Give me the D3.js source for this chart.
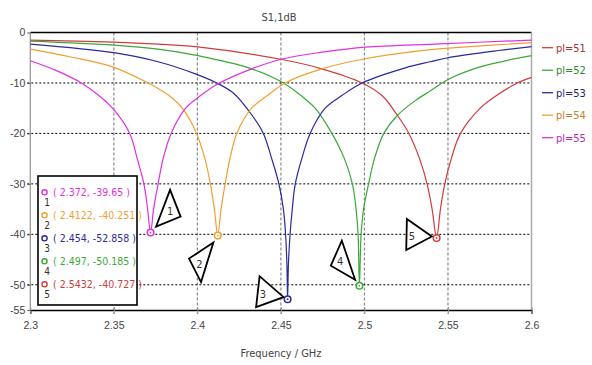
<!DOCTYPE html>
<html>
<head>
<meta charset="utf-8">
<script src="https://cdn.jsdelivr.net/npm/d3@7"></script>
<style>
  body { margin: 0; background: #fff; }
  svg { display: block; font-family: "Liberation Sans Narrow", "DejaVu Sans Condensed", "Liberation Sans", sans-serif; font-stretch: condensed; }
</style>
</head>
<body>
<svg id="chart" width="592" height="365"></svg>
<script>
var seriesNames = ['pl=51', 'pl=52', 'pl=53', 'pl=54', 'pl=55'];
var seriesColors = ['#d03c3c', '#3aa83a', '#2a2a9a', '#f0a030', '#e030e0'];

var pl51Freq = [2.300, 2.350, 2.3765, 2.3988, 2.4515, 2.4745, 2.4986, 2.5105, 2.5195, 2.5266, 2.533, 2.5375, 2.5405, 2.5432, 2.5455, 2.5481, 2.552, 2.5575, 2.5693, 2.579, 2.5916, 2.600];
var pl51Db   = [-1.5, -1.9, -2.3, -2.8, -5.4, -7.2, -10, -12.5, -16.3, -20, -25, -30, -35, -40.727, -35, -30, -25, -20, -15, -12.5, -10, -8.9];

var pl52Freq = [2.300, 2.350, 2.3765, 2.3988, 2.4325, 2.4515, 2.462, 2.4705, 2.4805, 2.488, 2.4928, 2.495, 2.4962, 2.497, 2.498, 2.4995, 2.5025, 2.506, 2.5116, 2.5195, 2.530, 2.5393, 2.550, 2.5693, 2.600];
var pl52Db   = [-1.7, -2.5, -3.3, -4.5, -7.2, -10, -12.5, -15, -20, -25, -30, -35, -40, -50.185, -40, -35, -30, -25, -20, -16.5, -13.6, -11.6, -9.3, -6.8, -4.6];

var pl53Freq = [2.300, 2.350, 2.3765, 2.3988, 2.4116, 2.4215, 2.4325, 2.4395, 2.4445, 2.4488, 2.4515, 2.4528, 2.4536, 2.454, 2.4545, 2.4555, 2.4568, 2.4586, 2.4625, 2.4675, 2.4765, 2.4865, 2.4986, 2.5245, 2.5393, 2.550, 2.575, 2.600];
var pl53Db   = [-2.3, -4.0, -5.8, -8.2, -10, -12, -16.3, -20, -25, -30, -35, -40, -46, -52.858, -46, -40, -35, -30, -25, -20, -15, -12.5, -10, -7.0, -5.8, -5.0, -3.8, -2.8];

var pl54Freq = [2.300, 2.325, 2.350, 2.3705, 2.3765, 2.383, 2.391, 2.3995, 2.4045, 2.4078, 2.4102, 2.4122, 2.4142, 2.4166, 2.4195, 2.4236, 2.4325, 2.4415, 2.4525, 2.4745, 2.5005, 2.5393, 2.5505, 2.600];
var pl54Db   = [-3.3, -4.9, -6.9, -10, -11.1, -12.5, -15, -20, -25, -30, -35, -40.251, -35, -30, -25, -20, -15, -12.6, -10, -7.2, -5.2, -3.4, -3.1, -2.0];

var pl55Freq = [2.300, 2.316, 2.3306, 2.341, 2.350, 2.3595, 2.364, 2.368, 2.3702, 2.372, 2.3738, 2.3765, 2.3795, 2.3843, 2.393, 2.402, 2.4116, 2.4325, 2.4515, 2.475, 2.5005, 2.545, 2.600];
var pl55Db   = [-5.6, -7.6, -10, -12.5, -15.3, -20, -25, -30, -35, -39.65, -35, -30, -25, -20, -15, -12.5, -10.3, -7.2, -5.2, -3.9, -2.9, -2.25, -1.5];

// Markers placed on the curves (listed in marker order 1..5)
var markerLabels = ['1', '2', '3', '4', '5'];
var markerFreq = [2.372, 2.4122, 2.454, 2.497, 2.5432];
var markerDb = [-39.65, -40.251, -52.858, -50.185, -40.727];
var markerText = ['( 2.372, -39.65 )', '( 2.4122, -40.251 )', '( 2.454, -52.858 )', '( 2.497, -50.185 )', '( 2.5432, -40.727 )'];
var markerColors = ['#e030e0', '#f0a030', '#2a2a9a', '#3aa83a', '#d03c3c'];

var xTicks = [2.3, 2.35, 2.4, 2.45, 2.5, 2.55, 2.6];
var xTickLabels = ['2.3', '2.35', '2.4', '2.45', '2.5', '2.55', '2.6'];
var yTicks = [0, -10, -20, -30, -40, -50, -55];

var seriesFreq = [pl51Freq, pl52Freq, pl53Freq, pl54Freq, pl55Freq];
var seriesDb = [pl51Db, pl52Db, pl53Db, pl54Db, pl55Db];

var plot = { left: 30.3, right: 531.5, top: 32.5, bottom: 310 };

var svg = d3.select('svg#chart');

var x = d3.scaleLinear().domain([2.3, 2.6]).range([plot.left, plot.right]);
var y = d3.scaleLinear().domain([-55, 0]).range([plot.bottom, plot.top]);

// Title
svg.append('text')
    .attr('x', 279).attr('y', 21)
    .attr('text-anchor', 'middle')
    .attr('font-size', 11)
    .attr('fill', '#444')
    .text('S1,1dB');

// Gridlines
svg.append('g').selectAll('line')
    .data(xTicks.slice(1, -1))
    .enter().append('line')
        .attr('x1', function(d) { return x(d); })
        .attr('x2', function(d) { return x(d); })
        .attr('y1', plot.top).attr('y2', plot.bottom + 4)
        .attr('stroke', '#8a8a8a')
        .attr('stroke-width', 1.2)
        .attr('stroke-dasharray', '3,2');

svg.append('g').selectAll('line')
    .data(yTicks.filter(function(d) { return d < 0 && d > -55; }))
    .enter().append('line')
        .attr('x1', plot.left - 3).attr('x2', plot.right)
        .attr('y1', function(d) { return y(d); })
        .attr('y2', function(d) { return y(d); })
        .attr('stroke', '#000')
        .attr('stroke-width', 1)
        .attr('stroke-dasharray', '2,2');

// Frame
svg.append('line').attr('x1', plot.left).attr('x2', plot.right).attr('y1', plot.top).attr('y2', plot.top)
    .attr('stroke', '#000').attr('stroke-width', 1.3);
svg.append('line').attr('x1', plot.left).attr('x2', plot.left).attr('y1', plot.top).attr('y2', plot.bottom)
    .attr('stroke', '#999').attr('stroke-width', 1.3);
svg.append('line').attr('x1', plot.right).attr('x2', plot.right).attr('y1', plot.top).attr('y2', plot.bottom)
    .attr('stroke', '#aaa').attr('stroke-width', 1.5);

// Axes
var xAxis = d3.axisBottom(x)
    .tickValues(xTicks)
    .tickSize(4)
    .tickFormat(function(d, i) { return xTickLabels[i]; });
var gx = svg.append('g')
    .attr('transform', 'translate(0,' + plot.bottom + ')')
    .call(xAxis);
gx.select('.domain').attr('stroke', '#000').attr('stroke-width', 1.3);
gx.selectAll('.tick line').attr('stroke', '#999').attr('y1', -3);
gx.selectAll('.tick text').attr('font-size', 10.5).attr('fill', '#444').attr('dy', '1.1em')
    .attr('font-family', 'inherit');

var yAxis = d3.axisLeft(y)
    .tickValues(yTicks)
    .tickSize(3)
    .tickFormat(function(d) { return String(d); });
var gy = svg.append('g')
    .attr('transform', 'translate(' + plot.left + ',0)')
    .call(yAxis);
gy.select('.domain').remove();
gy.selectAll('.tick line').attr('stroke', '#555');
gy.selectAll('.tick text').attr('font-size', 10.5).attr('fill', '#444').attr('x', -5)
    .attr('font-family', 'inherit');

svg.append('text')
    .attr('x', 281).attr('y', 357)
    .attr('text-anchor', 'middle')
    .attr('font-size', 11)
    .attr('fill', '#444')
    .text('Frequency / GHz');

// Curves
var line = d3.line()
    .x(function(d) { return x(d[0]); })
    .y(function(d) { return y(d[1]); })
    .curve(d3.curveCatmullRom.alpha(0.5));

var curves = svg.append('g');
for (var i = 0; i < seriesNames.length; i++) {
    var pts = d3.zip(seriesFreq[i], seriesDb[i]);
    curves.append('path')
        .datum(pts)
        .attr('fill', 'none')
        .attr('stroke', seriesColors[i])
        .attr('stroke-width', 1.2)
        .attr('d', line);
}

// Right legend
var legend = svg.append('g').selectAll('g')
    .data(seriesNames)
    .enter().append('g')
        .attr('transform', function(d, i) { return 'translate(542,' + (47.7 + i * 22.5) + ')'; });
legend.append('line')
    .attr('x1', 0).attr('x2', 11)
    .attr('stroke', function(d, i) { return seriesColors[i]; })
    .attr('stroke-width', 1.3);
legend.append('text')
    .attr('x', 14).attr('dy', '0.35em')
    .attr('font-size', 11)
    .attr('fill', function(d, i) { return d3.color(seriesColors[i]).darker(0.6); })
    .text(function(d) { return d; });

// Marker pointers (triangle offsets relative to the marker point)
var pointerShapes = [
    { tri: [[5.5, -6], [19.5, -42.7], [30, -16]], label: [19.5, -21.7] },
    { tri: [[-4.4, 7], [-28.7, 23], [-16.7, 46.5]], label: [-18.4, 28.5] },
    { tri: [[-4, -2], [-28, -23], [-31.5, 8]], label: [-24.8, -5] },
    { tri: [[-4.3, -6], [-17.6, -45], [-28.6, -20]], label: [-19.3, -25] },
    { tri: [[-4.7, -1.5], [-29.7, -19], [-30.4, 12]], label: [-24.7, -1.5] }
];

var pointers = svg.append('g').selectAll('g')
    .data(markerFreq)
    .enter().append('g')
        .attr('transform', function(d, i) { return 'translate(' + x(d) + ',' + y(markerDb[i]) + ')'; });
pointers.append('path')
    .attr('d', function(d, i) { return 'M' + pointerShapes[i].tri.join('L') + 'Z'; })
    .attr('fill', '#fff')
    .attr('stroke', '#000')
    .attr('stroke-width', 1.8)
    .attr('stroke-linejoin', 'miter');
pointers.append('text')
    .attr('x', function(d, i) { return pointerShapes[i].label[0]; })
    .attr('y', function(d, i) { return pointerShapes[i].label[1]; })
    .attr('dy', '0.35em')
    .attr('text-anchor', 'middle')
    .attr('font-size', 11)
    .attr('fill', '#333')
    .text(function(d, i) { return markerLabels[i]; });
pointers.append('circle')
    .attr('r', 3.3)
    .attr('fill', '#fff')
    .attr('stroke', function(d, i) { return markerColors[i]; })
    .attr('stroke-width', 1.5);
pointers.append('circle')
    .attr('r', 0.9)
    .attr('fill', function(d, i) { return markerColors[i]; });

// Marker table
var box = svg.append('g').attr('transform', 'translate(38,176)');
box.append('rect')
    .attr('width', 99).attr('height', 129)
    .attr('fill', '#fff')
    .attr('stroke', '#000')
    .attr('stroke-width', 1.6);
var rows = box.selectAll('g.row')
    .data(markerText)
    .enter().append('g')
        .attr('class', 'row')
        .attr('transform', function(d, i) { return 'translate(6.5,' + (16.3 + i * 23) + ')'; });
rows.append('circle')
    .attr('r', 2.6)
    .attr('fill', '#fff')
    .attr('stroke', function(d, i) { return markerColors[i]; })
    .attr('stroke-width', 1.4);
rows.append('text')
    .attr('x', 2.5).attr('y', 10.5)
    .attr('dy', '0.35em')
    .attr('text-anchor', 'middle')
    .attr('font-size', 10)
    .attr('fill', '#333')
    .text(function(d, i) { return markerLabels[i]; });
rows.append('text')
    .attr('x', 8.5).attr('dy', '0.35em')
    .attr('font-size', 10.5)
    .attr('fill', function(d, i) { return markerColors[i]; })
    .text(function(d) { return d; });
</script>
</body>
</html>
